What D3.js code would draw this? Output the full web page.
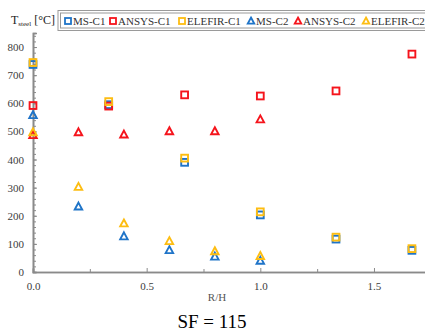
<!DOCTYPE html>
<html><head><meta charset="utf-8">
<script src="https://cdn.jsdelivr.net/npm/d3@7"></script>
<style>body{margin:0;background:#fff;overflow:hidden}svg{display:block}</style>
</head><body><svg id="c" width="425" height="334"></svg>
<script>
const xC1 = [0, 0.333, 0.667, 1.0, 1.333, 1.667];
const xC2 = [0, 0.2, 0.4, 0.6, 0.8, 1.0];
const msC1 = [738, 595, 390, 203, 117, 77];
const ansysC1 = [592, 590, 630, 626, 644, 775];
const elefirC1 = [745, 606, 405, 214, 124, 83];
const msC2 = [558, 233, 127, 78, 55, 40];
const ansysC2 = [487, 497, 489, 501, 501, 543];
const elefirC2 = [497, 303, 173, 110, 74, 57];
const xTicks = [0, 0.5, 1.0, 1.5];
const yTicks = [0, 100, 200, 300, 400, 500, 600, 700, 800];
const seriesNames = ["MS-C1", "ANSYS-C1", "ELEFIR-C1", "MS-C2", "ANSYS-C2", "ELEFIR-C2"];

const colors = {MS: "#1f74c8", ANSYS: "#f5141c", ELEFIR: "#fdbd12"};
const series = [
  {name: seriesNames[0], xs: xC1, ys: msC1, color: colors.MS, shape: "sq"},
  {name: seriesNames[1], xs: xC1, ys: ansysC1, color: colors.ANSYS, shape: "sq"},
  {name: seriesNames[2], xs: xC1, ys: elefirC1, color: colors.ELEFIR, shape: "sq"},
  {name: seriesNames[3], xs: xC2, ys: msC2, color: colors.MS, shape: "tri"},
  {name: seriesNames[4], xs: xC2, ys: ansysC2, color: colors.ANSYS, shape: "tri"},
  {name: seriesNames[5], xs: xC2, ys: elefirC2, color: colors.ELEFIR, shape: "tri"}
];

const svg = d3.select("#c");
const font = "'Liberation Serif', 'Times New Roman', serif";
const x = d3.scaleLinear().domain([0, 1.75]).range([33, 430.8]);
const y = d3.scaleLinear().domain([0, 850]).range([272, 33]);
const axisCol = "#8a8a8a", textCol = "#3c3c3c";

// minor ticks
const gMinY = svg.append("g").attr("transform", "translate(33,0)")
  .call(d3.axisLeft(y).tickValues(d3.range(0, 851, 20)).tickSize(-3).tickFormat(""));
const gMinX = svg.append("g").attr("transform", "translate(0,272)")
  .call(d3.axisBottom(x).tickValues([0.25, 0.75, 1.25]).tickSize(-3).tickFormat(""));
// major
const gY = svg.append("g").attr("transform", "translate(33,0)")
  .call(d3.axisLeft(y).tickValues(yTicks).tickSize(-4).tickPadding(9).tickFormat(d3.format("d")));
const gX = svg.append("g").attr("transform", "translate(0,272)")
  .call(d3.axisBottom(x).tickValues(xTicks).tickSize(-4).tickPadding(6).tickFormat(d3.format(".1f")));
[gMinY, gMinX, gY, gX].forEach(g => {
  g.selectAll(".domain").attr("stroke", axisCol).attr("stroke-width", 1.6);
  g.selectAll(".tick line").attr("stroke", axisCol);
  g.selectAll("text").attr("font-family", font).attr("font-size", 11).attr("fill", textCol);
});
gX.selectAll("text").attr("dy", "1.1em");

// axis title
svg.append("text").attr("x", 217).attr("y", 301).attr("text-anchor", "middle")
  .attr("font-family", font).attr("font-size", 11).attr("fill", "#555").text("R/H");
svg.append("text").attr("x", 212).attr("y", 328).attr("text-anchor", "middle")
  .attr("font-family", font).attr("font-size", 19).attr("fill", "#000").text("SF = 115");

// y label
const yl = svg.append("text").attr("x", 11).attr("y", 24).attr("font-family", font)
  .attr("font-size", 12).attr("fill", "#222");
yl.append("tspan").text("T");
yl.append("tspan").attr("font-size", 7).attr("dy", 2).text("steel");
yl.append("tspan").attr("dy", -2).text(" [°C]");

// legend box
svg.append("rect").attr("x", 58).attr("y", 10.5).attr("width", 400).attr("height", 20)
  .attr("fill", "#fff").attr("stroke", "#9a9a9a").attr("stroke-width", 1);
svg.append("rect").attr("x", 60.5).attr("y", 13).attr("width", 400).attr("height", 15)
  .attr("fill", "none").attr("stroke", "#9a9a9a").attr("stroke-width", 1);

function marker(g, shape, color, cx, cy, r, sw) {
  if (shape === "sq") {
    g.append("rect").attr("x", cx - r).attr("y", cy - r).attr("width", 2 * r).attr("height", 2 * r)
      .attr("fill", "none").attr("stroke", color).attr("stroke-width", sw);
  } else {
    g.append("path").attr("d", `M${cx},${cy - r * 1.15}L${cx + r * 1.1},${cy + r * 0.9}L${cx - r * 1.1},${cy + r * 0.9}Z`)
      .attr("fill", "none").attr("stroke", color).attr("stroke-width", sw).attr("stroke-linejoin", "miter");
  }
}

const legendX = [68, 113, 182, 251, 298, 366];
const lg = svg.append("g");
series.forEach((s, i) => {
  marker(lg, s.shape, s.color, legendX[i], 21, 3, 1.8);
  lg.append("text").attr("x", legendX[i] + 5).attr("y", 25).attr("font-family", font)
    .attr("font-size", 11).attr("fill", "#333").text(s.name);
});

// points
const pg = svg.append("g");
series.forEach(s => {
  s.xs.forEach((xv, i) => marker(pg, s.shape, s.color, x(xv), y(s.ys[i]), 3.4, 1.9));
});
</script></body></html>
